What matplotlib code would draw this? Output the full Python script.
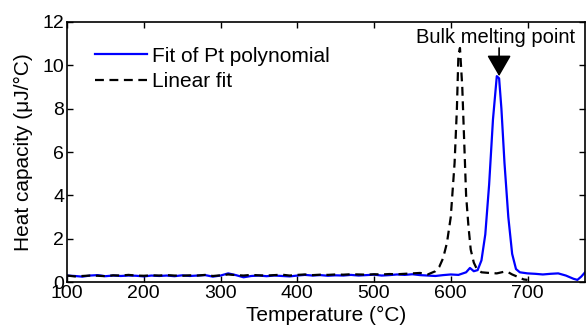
"""Heat capacity vs temperature: Pt-polynomial fit against linear fit."""

import matplotlib
matplotlib.use("Agg")
import matplotlib.pyplot as plt

plt.rcParams["font.family"] = ["Liberation Sans", "DejaVu Sans"]

# Fit of Pt polynomial (blue, solid)
T_PT = [100, 110, 120, 130, 140, 150, 160, 170, 180, 190, 200, 210, 220, 230,
        240, 250, 260, 270, 280, 290, 300, 310, 320, 330, 340, 350, 360, 370,
        380, 390, 400, 410, 420, 430, 440, 450, 460, 470, 480, 490, 500, 510,
        520, 530, 540, 550, 560, 570, 580, 590, 600, 610, 620, 625, 630, 635,
        640, 645, 650, 655, 660, 663, 666, 670, 675, 680, 685, 690, 700, 710,
        720, 730, 740, 750, 760, 765, 770, 775]
CP_PT = [0.30, 0.28, 0.25, 0.30, 0.32, 0.27, 0.30, 0.28, 0.30, 0.29, 0.26, 0.30,
         0.28, 0.30, 0.27, 0.31, 0.28, 0.30, 0.32, 0.25, 0.30, 0.40, 0.32, 0.22,
         0.28, 0.30, 0.27, 0.30, 0.28, 0.26, 0.30, 0.33, 0.30, 0.32, 0.29, 0.31,
         0.30, 0.33, 0.30, 0.32, 0.34, 0.30, 0.32, 0.35, 0.33, 0.36, 0.32, 0.30,
         0.28, 0.32, 0.35, 0.33, 0.45, 0.65, 0.50, 0.55, 1.0, 2.2, 4.5, 7.5, 9.5,
         9.4, 8.0, 5.5, 3.0, 1.3, 0.6, 0.45, 0.40, 0.38, 0.35, 0.38, 0.40, 0.30,
         0.15, 0.10, 0.25, 0.45]

# Linear fit (black, dashed)
T_LIN = [100, 110, 120, 130, 140, 150, 160, 170, 180, 190, 200, 210, 220, 230,
         240, 250, 260, 270, 280, 290, 300, 310, 320, 330, 340, 350, 360, 370,
         380, 390, 400, 410, 420, 430, 440, 450, 460, 470, 480, 490, 500, 510,
         520, 530, 540, 550, 560, 570, 580, 585, 590, 595, 600, 605, 608, 610,
         612, 615, 618, 620, 623, 626, 630, 634, 640, 650, 660, 670, 675, 680,
         690, 695, 700]
CP_LIN = [0.30, 0.26, 0.28, 0.30, 0.29, 0.27, 0.31, 0.30, 0.33, 0.30, 0.29, 0.31,
          0.30, 0.32, 0.30, 0.29, 0.31, 0.30, 0.33, 0.28, 0.31, 0.35, 0.32, 0.30,
          0.33, 0.31, 0.30, 0.32, 0.34, 0.30, 0.33, 0.35, 0.32, 0.34, 0.33, 0.35,
          0.34, 0.36, 0.35, 0.34, 0.36, 0.35, 0.37, 0.36, 0.38, 0.40, 0.42, 0.35,
          0.50, 0.70, 1.1, 1.8, 3.0, 5.5, 8.0, 10.5, 10.8, 9.0, 6.0, 4.0, 2.6, 1.5,
          0.9, 0.6, 0.45, 0.42, 0.40, 0.48, 0.45, 0.35, 0.20, 0.12, 0.10]

BULK_MELT_T = 663
BULK_MELT_CP = 9.5

fig = plt.figure(figsize=(5.88, 3.33), dpi=100)
ax = fig.add_axes([0.114, 0.153, 0.881, 0.781])

ax.plot(T_PT, CP_PT, color="#0000ff", lw=1.6, label="Fit of Pt polynomial")
ax.plot(T_LIN, CP_LIN, color="black", lw=1.6, ls=(0, (4, 2.5)),
        label="Linear fit")

ax.annotate("", xy=(BULK_MELT_T, BULK_MELT_CP), xytext=(BULK_MELT_T, 10.8),
            arrowprops=dict(arrowstyle="-|>,head_length=1.3,head_width=0.75",
                            color="black", lw=1.2, shrinkA=0, shrinkB=0))
ax.text(658, 11.3, "Bulk melting point", fontsize=14.5, ha="center",
        va="center")

ax.set_xlim(100, 775)
ax.set_ylim(0, 12)
ax.set_xticks(range(100, 701, 100))
ax.set_yticks(range(0, 13, 2))
ax.tick_params(direction="in", top=True, right=True, length=4, width=1,
               labelsize=14, pad=2)
for s in ax.spines.values():
    s.set_linewidth(1.2)

ax.set_xlabel("Temperature (°C)", fontsize=15, labelpad=3)
ax.set_ylabel("Heat capacity (μJ/°C)", fontsize=15, labelpad=7)

ax.legend(loc="upper left", bbox_to_anchor=(0.054, 0.905), frameon=False,
          fontsize=15, handlelength=2.5, handletextpad=0.25,
          labelspacing=0.3, borderpad=0, borderaxespad=0)

fig.savefig("out.png", dpi=100)
